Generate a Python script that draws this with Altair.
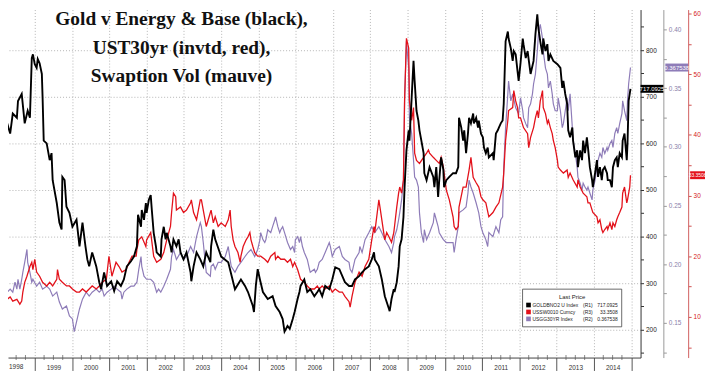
import altair as alt
import pandas as pd

# ---------------- data ----------------
black_year = [
    1998.07, 1998.20, 1998.26, 1998.34, 1998.41, 1998.52, 1998.55, 1998.65, 1998.73, 1998.81, 1998.87, 1998.92, 1998.95,
    1999.00, 1999.05, 1999.08, 1999.13, 1999.19, 1999.21, 1999.24, 1999.32, 1999.40, 1999.45, 1999.48, 1999.59, 1999.66, 1999.72, 1999.74, 1999.80, 1999.85, 1999.93,
    2000.01, 2000.12, 2000.20, 2000.28, 2000.36, 2000.41, 2000.46, 2000.54, 2000.65, 2000.73, 2000.78, 2000.86, 2000.94,
    2001.05, 2001.13, 2001.21, 2001.31, 2001.39, 2001.47, 2001.58, 2001.66, 2001.74, 2001.77, 2001.85, 2001.87, 2001.93, 2001.98,
    2002.00, 2002.06, 2002.11, 2002.14, 2002.19, 2002.25, 2002.27, 2002.38, 2002.40, 2002.46, 2002.51, 2002.54, 2002.64, 2002.67, 2002.72, 2002.80, 2002.86, 2002.91, 2002.99,
    2003.07, 2003.18, 2003.20, 2003.26, 2003.34, 2003.44, 2003.52, 2003.60, 2003.71, 2003.73, 2003.79, 2003.84,
    2004.00, 2004.19, 2004.37, 2004.53, 2004.64, 2004.72, 2004.85, 2004.88, 2004.93, 2004.98,
    2005.04, 2005.12, 2005.25, 2005.38, 2005.46, 2005.57, 2005.65, 2005.70, 2005.78, 2005.84, 2005.92, 2005.97,
    2006.05, 2006.10, 2006.13, 2006.23, 2006.31, 2006.39, 2006.50, 2006.58, 2006.63, 2006.71, 2006.79, 2006.90, 2006.98,
    2007.06, 2007.17, 2007.25, 2007.32, 2007.43, 2007.51, 2007.59, 2007.70, 2007.78, 2007.86, 2007.96,
    2008.04, 2008.10, 2008.12, 2008.23, 2008.31, 2008.39, 2008.50, 2008.52, 2008.57, 2008.63, 2008.65, 2008.71, 2008.76, 2008.79, 2008.84, 2008.89, 2008.92, 2008.97,
    2009.03, 2009.05, 2009.11, 2009.16, 2009.19, 2009.24, 2009.29, 2009.32, 2009.37, 2009.43, 2009.45, 2009.51, 2009.59, 2009.69, 2009.72, 2009.77, 2009.82, 2009.85, 2009.90, 2009.96, 2009.98,
    2010.04, 2010.12, 2010.22, 2010.30, 2010.36, 2010.38, 2010.44, 2010.49, 2010.52, 2010.57, 2010.62, 2010.65, 2010.70, 2010.76, 2010.78, 2010.84, 2010.89, 2010.91, 2010.97,
    2011.02, 2011.05, 2011.10, 2011.15, 2011.18, 2011.29, 2011.31, 2011.37, 2011.42, 2011.45, 2011.50, 2011.55, 2011.58, 2011.63, 2011.69, 2011.71, 2011.77, 2011.82, 2011.85, 2011.90, 2011.95, 2011.98,
    2012.03, 2012.09, 2012.11, 2012.17, 2012.22, 2012.30, 2012.38, 2012.43, 2012.48, 2012.51, 2012.56, 2012.62, 2012.64, 2012.70, 2012.75, 2012.78, 2012.83, 2012.91,
    2013.02, 2013.10, 2013.15, 2013.18, 2013.23, 2013.28, 2013.31, 2013.36, 2013.42, 2013.44, 2013.50, 2013.55, 2013.57, 2013.63, 2013.68, 2013.71, 2013.76, 2013.81, 2013.84, 2013.89, 2013.95, 2013.97,
    2014.03, 2014.08, 2014.11, 2014.16, 2014.21, 2014.24, 2014.29, 2014.35, 2014.37, 2014.43, 2014.48, 2014.51, 2014.56, 2014.61, 2014.64, 2014.69, 2014.75, 2014.77, 2014.82, 2014.88, 2014.90, 2014.93, 2014.98,
]
black_value = [
    581, 660, 643, 621, 664, 655, 691, 706, 643, 670, 655, 783, 791,
    770, 762, 781, 772, 749, 698, 606, 600, 564, 579, 521, 472, 430, 415, 528, 521, 464, 451,
    421, 436, 379, 430, 379, 351, 336, 366, 336, 302, 287, 323, 294,
    304, 283, 304, 294, 308, 336, 347, 357, 379, 447, 421, 457, 436, 472,
    451, 479, 489, 457, 408, 379, 366, 357, 394, 421, 394, 408, 379, 366, 394, 379, 394, 366, 351,
    366, 323, 304, 336, 366, 351, 336, 366, 345, 379, 415, 394,
    357, 345, 287, 308, 294, 281, 251, 238, 294, 330,
    308, 281, 266, 272, 251, 238, 223, 196, 208, 202, 223, 238,
    266, 281, 294, 308, 281, 287, 272, 281, 287, 272, 294, 287, 308,
    334, 330, 315, 302, 294, 294, 308, 315, 323, 330, 336,
    351, 366, 351, 336, 308, 272, 245, 240, 266, 287, 281, 302, 336, 379, 394, 442, 506, 585,
    628, 606, 698, 777, 734, 670, 649, 628, 606, 579, 536, 521, 549, 528, 506, 549, 485, 521, 570, 543, 506,
    521, 528, 536, 536, 549, 655, 634, 606, 628, 579, 621, 655, 643, 664, 643, 655, 634, 649, 621,
    613, 591, 579, 591, 570, 579, 564, 621, 628, 634, 643, 649, 685, 819, 840, 825, 804, 777, 798, 791, 755, 734,
    772, 825, 813, 783, 798, 749, 777, 834, 877, 847, 819, 791, 825, 798, 813, 777, 791, 777,
    770, 762, 719, 734, 706, 685, 628, 613, 634, 606, 570, 585, 549, 585, 564, 606, 579, 613, 591, 549, 521, 506,
    536, 564, 528, 549, 521, 543, 549, 536, 521, 521, 506, 549, 564, 570, 549, 579, 570, 606, 621, 564, 600, 691, 717.09,
]

red_year = [
    1998.07, 1998.15, 1998.26, 1998.34, 1998.41, 1998.52, 1998.60, 1998.65, 1998.68, 1998.73, 1998.79, 1998.87, 1998.92, 1998.95,
    1999.00, 1999.05, 1999.13, 1999.21, 1999.32, 1999.40, 1999.48, 1999.59, 1999.61, 1999.66, 1999.74, 1999.85, 1999.93,
    2000.01, 2000.12, 2000.20, 2000.28, 2000.38, 2000.46, 2000.54, 2000.65, 2000.73, 2000.81, 2000.92, 2000.99,
    2001.07, 2001.18, 2001.26, 2001.34, 2001.45, 2001.53, 2001.61, 2001.72, 2001.74, 2001.79, 2001.87, 2001.98,
    2002.00, 2002.11, 2002.19, 2002.27, 2002.38, 2002.46, 2002.54, 2002.64, 2002.67, 2002.72, 2002.78, 2002.80, 2002.91, 2002.99,
    2003.07, 2003.18, 2003.20, 2003.26, 2003.34, 2003.44, 2003.47, 2003.52, 2003.60, 2003.71, 2003.73, 2003.79, 2003.84, 2003.92,
    2004.00, 2004.11, 2004.19, 2004.24, 2004.27, 2004.32, 2004.37, 2004.45, 2004.51, 2004.53, 2004.59, 2004.64, 2004.67, 2004.72, 2004.77, 2004.80, 2004.85, 2004.90, 2004.98,
    2005.06, 2005.17, 2005.25, 2005.33, 2005.44, 2005.46, 2005.52, 2005.60, 2005.70, 2005.78, 2005.86, 2005.92, 2005.97,
    2006.05, 2006.13, 2006.23, 2006.31, 2006.39, 2006.50, 2006.58, 2006.63, 2006.71, 2006.79, 2006.90, 2006.98,
    2007.06, 2007.17, 2007.25, 2007.32, 2007.43, 2007.46, 2007.51, 2007.59, 2007.70, 2007.78, 2007.86, 2007.96,
    2008.04, 2008.10, 2008.12, 2008.23, 2008.26, 2008.31, 2008.36, 2008.39, 2008.44, 2008.50, 2008.57, 2008.63, 2008.65, 2008.71, 2008.76, 2008.79, 2008.84, 2008.89, 2008.92, 2008.97,
    2009.03, 2009.05, 2009.11, 2009.16, 2009.19, 2009.24, 2009.32, 2009.43, 2009.51, 2009.56, 2009.59, 2009.69, 2009.77, 2009.85, 2009.90, 2009.96, 2009.98,
    2010.04, 2010.12, 2010.22, 2010.25, 2010.30, 2010.36, 2010.38, 2010.49, 2010.57, 2010.65, 2010.70, 2010.76, 2010.84, 2010.91, 2010.97,
    2011.02, 2011.10, 2011.18, 2011.29, 2011.37, 2011.45, 2011.55, 2011.58, 2011.63, 2011.69, 2011.71, 2011.82, 2011.85, 2011.90, 2011.95, 2011.98,
    2012.03, 2012.11, 2012.22, 2012.25, 2012.30, 2012.38, 2012.43, 2012.48, 2012.51, 2012.56, 2012.62, 2012.64, 2012.70, 2012.75, 2012.78, 2012.83, 2012.88, 2012.91, 2012.96,
    2013.02, 2013.04, 2013.10, 2013.18, 2013.28, 2013.31, 2013.36, 2013.44, 2013.55, 2013.57, 2013.63, 2013.71, 2013.81, 2013.84, 2013.89, 2013.95, 2013.97,
    2014.08, 2014.11, 2014.16, 2014.21, 2014.24, 2014.29, 2014.35, 2014.37, 2014.43, 2014.48, 2014.51, 2014.56, 2014.61, 2014.64, 2014.69, 2014.75, 2014.77, 2014.82, 2014.88, 2014.90, 2014.96, 2014.98,
]
red_value = [
    15.1, 14.1, 12.9, 13.3, 12.6, 12.9, 12.1, 12.6, 14.1, 15.7, 16.7, 18.3, 19.0, 17.8,
    19.5, 17.4, 16.7, 15.7, 15.1, 15.7, 15.1, 16.2, 17.8, 16.2, 15.7, 15.1, 15.1,
    14.6, 14.1, 14.1, 14.6, 14.1, 14.6, 15.1, 14.6, 15.1, 15.7, 16.2, 20.0,
    16.7, 19.0, 18.3, 17.4, 17.8, 19.0, 20.0, 20.0, 21.1, 22.7, 23.2, 21.6,
    22.7, 23.9, 20.0, 19.0, 19.5, 20.6, 22.7, 24.9, 27.2, 30.4, 29.8, 27.6, 28.1, 27.2,
    27.6, 28.8, 29.3, 27.2, 26.0, 29.3, 29.3, 27.6, 24.9, 27.2, 27.6, 25.5, 26.5, 24.9,
    25.5, 24.9, 26.0, 27.6, 24.9, 22.7, 21.6, 20.6, 19.0, 20.0, 21.6, 22.3, 22.7, 23.2, 23.9, 22.7, 21.6, 20.6, 20.0,
    20.0, 19.5, 19.0, 20.0, 20.6, 19.5, 20.0, 19.5, 19.5, 19.0, 19.5, 18.3, 19.0,
    17.8, 16.2, 15.7, 15.1, 14.6, 14.6, 15.1, 14.6, 15.1, 14.6, 15.1, 14.1,
    14.6, 14.1, 14.1, 13.4, 12.5, 11.6, 13.4, 15.7, 17.4, 16.7, 18.3, 19.5,
    22.7, 24.9, 23.9, 29.3, 28.1, 26.0, 23.9, 22.7, 23.9, 23.2, 22.3, 23.9, 24.9, 28.1, 30.4, 31.4, 30.4, 32.6, 45.6, 55.9,
    54.3, 45.6, 42.4, 44.5, 37.0, 35.8, 35.3, 36.3, 37.0, 37.5, 37.0, 36.3, 35.8, 35.3, 36.3, 34.7, 33.7,
    30.9, 29.3, 26.5, 24.9, 24.4, 24.9, 28.1, 31.4, 31.4, 34.2, 36.3, 33.0, 32.1, 31.4, 29.8,
    29.3, 28.8, 26.5, 27.2, 28.1, 28.8, 31.4, 33.7, 39.1, 42.4, 44.0, 44.5, 47.3, 45.6, 44.5, 42.8,
    42.8, 41.2, 40.2, 37.9, 39.6, 41.2, 42.8, 44.0, 42.8, 45.6, 47.3, 44.5, 43.5, 41.9, 42.4, 41.2, 40.2, 39.1, 37.9,
    35.8, 34.7, 34.2, 33.7, 34.2, 33.0, 33.7, 32.6, 31.4, 32.6, 31.4, 30.4, 29.8, 28.8, 28.8, 27.6, 27.2,
    26.5, 25.5, 26.0, 24.4, 23.9, 24.4, 24.9, 24.4, 25.5, 24.4, 25.5, 24.9, 26.0, 26.5, 27.2, 28.1, 30.4, 31.4, 28.8, 29.3, 31.4, 33.35,
]

mauve_year = [
    1998.07, 1998.15, 1998.20, 1998.26, 1998.34, 1998.41, 1998.47, 1998.52, 1998.55, 1998.60, 1998.65, 1998.68, 1998.73, 1998.79, 1998.81, 1998.87, 1998.92, 1998.95,
    1999.05, 1999.13, 1999.21, 1999.32, 1999.40, 1999.48, 1999.59, 1999.66, 1999.74, 1999.85, 1999.93,
    2000.01, 2000.06, 2000.12, 2000.20, 2000.28, 2000.38, 2000.46, 2000.54, 2000.65, 2000.73, 2000.81, 2000.86, 2000.94,
    2001.05, 2001.13, 2001.21, 2001.31, 2001.34, 2001.39, 2001.47, 2001.58, 2001.66, 2001.74, 2001.79, 2001.85, 2001.87, 2001.93,
    2002.00, 2002.11, 2002.19, 2002.27, 2002.32, 2002.38, 2002.46, 2002.54, 2002.64, 2002.67, 2002.72, 2002.80, 2002.91, 2002.99,
    2003.07, 2003.18, 2003.26, 2003.34, 2003.44, 2003.47, 2003.52, 2003.60, 2003.71, 2003.73, 2003.79, 2003.84, 2003.92,
    2004.00, 2004.11, 2004.19, 2004.24, 2004.27, 2004.37, 2004.45, 2004.53, 2004.64, 2004.72, 2004.80, 2004.90, 2004.98,
    2005.04, 2005.06, 2005.12, 2005.17, 2005.20, 2005.25, 2005.33, 2005.38, 2005.44, 2005.46, 2005.52, 2005.57, 2005.60, 2005.65, 2005.70, 2005.78, 2005.86, 2005.92, 2005.97, 2005.99,
    2006.05, 2006.10, 2006.13, 2006.18, 2006.23, 2006.31, 2006.37, 2006.39, 2006.50, 2006.53, 2006.58, 2006.63, 2006.71, 2006.79, 2006.90, 2006.93, 2006.98,
    2007.06, 2007.17, 2007.25, 2007.32, 2007.43, 2007.46, 2007.51, 2007.59, 2007.70, 2007.72, 2007.78, 2007.86, 2007.96,
    2008.04, 2008.12, 2008.23, 2008.31, 2008.39, 2008.50, 2008.57, 2008.63, 2008.65, 2008.71, 2008.76, 2008.79, 2008.84, 2008.89, 2008.92, 2008.97,
    2009.03, 2009.05, 2009.11, 2009.16, 2009.19, 2009.24, 2009.29, 2009.32, 2009.37, 2009.43, 2009.45, 2009.51, 2009.59, 2009.69, 2009.72, 2009.77, 2009.82, 2009.85, 2009.96,
    2010.04, 2010.12, 2010.22, 2010.25, 2010.30, 2010.36, 2010.38, 2010.49, 2010.57, 2010.62, 2010.65, 2010.70, 2010.76, 2010.84, 2010.91, 2010.97,
    2011.02, 2011.10, 2011.15, 2011.18, 2011.29, 2011.37, 2011.45, 2011.50, 2011.55, 2011.58, 2011.63, 2011.69, 2011.71, 2011.77, 2011.82, 2011.90, 2011.98,
    2012.03, 2012.09, 2012.11, 2012.17, 2012.22, 2012.25, 2012.30, 2012.35, 2012.38, 2012.43, 2012.48, 2012.51, 2012.56, 2012.62, 2012.64, 2012.70, 2012.75, 2012.78, 2012.83, 2012.88, 2012.91, 2012.96,
    2013.02, 2013.04, 2013.10, 2013.15, 2013.18, 2013.23, 2013.28, 2013.31, 2013.36, 2013.42, 2013.44, 2013.50, 2013.55, 2013.57, 2013.63, 2013.68, 2013.71, 2013.76, 2013.81, 2013.84, 2013.89, 2013.95, 2013.97,
    2014.03, 2014.08, 2014.11, 2014.16, 2014.21, 2014.24, 2014.29, 2014.35, 2014.37, 2014.43, 2014.48, 2014.51, 2014.56, 2014.61, 2014.64, 2014.69, 2014.75, 2014.77, 2014.82, 2014.88, 2014.90, 2014.93, 2014.98,
]
mauve_value = [
    0.1812, 0.1761, 0.1812, 0.1761, 0.1787, 0.1761, 0.1846, 0.1787, 0.1871, 0.1787, 0.1871, 0.1930, 0.2015, 0.2125, 0.2015, 0.1930, 0.1846, 0.1871,
    0.1812, 0.1846, 0.1787, 0.1812, 0.1787, 0.1728, 0.1761, 0.1677, 0.1618, 0.1643, 0.1559,
    0.1533, 0.1424, 0.1508, 0.1618, 0.1702, 0.1761, 0.1728, 0.1761, 0.1787, 0.1761, 0.1787, 0.1728, 0.1761,
    0.1787, 0.1812, 0.1787, 0.1761, 0.1702, 0.1761, 0.1787, 0.1812, 0.1812, 0.1846, 0.1956, 0.2065, 0.1981, 0.1897,
    0.1871, 0.1871, 0.1846, 0.1761, 0.1787, 0.1761, 0.1812, 0.1871, 0.1956, 0.2065, 0.2125, 0.2040, 0.2099, 0.2040,
    0.2065, 0.2150, 0.2099, 0.2234, 0.2353, 0.2319, 0.2184, 0.1930, 0.1897, 0.1981, 0.2000, 0.1956, 0.2015,
    0.2015, 0.2065, 0.2150, 0.2040, 0.1981, 0.1930, 0.1981, 0.2015, 0.2065, 0.2099, 0.2125, 0.2065, 0.2125,
    0.2209, 0.2268, 0.2209, 0.2184, 0.2209, 0.2293, 0.2268, 0.2319, 0.2378, 0.2403, 0.2319, 0.2268, 0.2293, 0.2319, 0.2268, 0.2184, 0.2125, 0.2150, 0.2099, 0.2209,
    0.2234, 0.2184, 0.2234, 0.2150, 0.2099, 0.2040, 0.1956, 0.1930, 0.1956, 0.1930, 0.1956, 0.2015, 0.2040, 0.2099, 0.2184, 0.2150, 0.2065,
    0.2125, 0.2150, 0.2065, 0.2040, 0.2015, 0.1956, 0.1930, 0.2040, 0.2099, 0.2150, 0.2099, 0.2209, 0.2268,
    0.2319, 0.2268, 0.2319, 0.2268, 0.2209, 0.2150, 0.2099, 0.2184, 0.2234, 0.2293, 0.2378, 0.2437, 0.2547, 0.2716, 0.3391, 0.3898,
    0.3670, 0.3248, 0.3113, 0.2885, 0.2741, 0.2716, 0.2657, 0.2437, 0.2268, 0.2184, 0.2293, 0.2209, 0.2268, 0.2353, 0.2437, 0.2378, 0.2319, 0.2268, 0.2209,
    0.2184, 0.2184, 0.2184, 0.2099, 0.2209, 0.2319, 0.2437, 0.2462, 0.2488, 0.2606, 0.2716, 0.2657, 0.2606, 0.2521, 0.2437, 0.2319,
    0.2268, 0.2209, 0.2150, 0.2268, 0.2234, 0.2319, 0.2268, 0.2378, 0.2403, 0.2825, 0.3163, 0.3451, 0.3560, 0.3391, 0.3451, 0.3332, 0.3282,
    0.3417, 0.3307, 0.3248, 0.3197, 0.3163, 0.3332, 0.3366, 0.3451, 0.3535, 0.3619, 0.3814, 0.3957, 0.4042, 0.3923, 0.3814, 0.3670, 0.3619, 0.3501, 0.3560, 0.3451, 0.3366, 0.3307,
    0.3307, 0.3417, 0.3307, 0.3163, 0.3197, 0.3307, 0.3417, 0.3307, 0.3451, 0.3163, 0.3054, 0.2944, 0.2825, 0.2741, 0.2690, 0.2631, 0.2690, 0.2657, 0.2631, 0.2657, 0.2606, 0.2547, 0.2631,
    0.2716, 0.2825, 0.2885, 0.2944, 0.2910, 0.2994, 0.2944, 0.2994, 0.2969, 0.3028, 0.3054, 0.2994, 0.3113, 0.3163, 0.3113, 0.3197, 0.3282, 0.3391, 0.3307, 0.3222, 0.3391, 0.3535, 0.3675,
]

title_lines = ["Gold v Energy & Base (black),", "UST30yr (invtd, red),", "Swaption Vol (mauve)"]
legend_title = "Last Price"
legend_names = ["GOLDBNO2 U Index", "USSW0010 Curncy", "USGG30YR Index"]
legend_axes = ["(R1)", "(R3)", "(R2)"]
legend_values = ["717.0925", "33.3508", "0.367538"]
year_ticks = list(range(1999, 2016))
first_year_label = ["1998"]          # year partly visible at the left edge
r1_ticks = list(range(150, 900, 50))
r2_ticks = [round(0.125 + 0.025 * i, 3) for i in range(12)]
r3_ticks = list(range(5, 61, 5))

BLACK, RED, MAUVE = "#000000", "#e3121b", "#8e7cb8"

# ---------------- layout ----------------
W, H = 638, 351
x_domain = [1998.282, 2015.25]
r1_domain = [140.3, 887.2]
r2_domain = [0.1204, 0.4169]
r3_domain = [3.3, 60.65]
FONT = "Liberation Sans"
TICK, LPAD, LSIZE = 13, -6, 6.5

xs = alt.Scale(domain=x_domain, nice=False, zero=False)
ys1 = alt.Scale(domain=r1_domain, nice=False, zero=False)
ys2 = alt.Scale(domain=r2_domain, nice=False, zero=False)
ys3 = alt.Scale(domain=r3_domain, nice=False, zero=False)

# identical x axis definition in every layer that uses the shared x scale
x_axis = alt.Axis(
    values=year_ticks, format="d", title=None,
    labelExpr="datum.value >= 2015 ? '' : datum.label",
    labelOffset=18.8, labelPadding=LPAD, labelFontSize=LSIZE, labelFont=FONT,
    labelColor="#333333", labelFlush=False, labelOverlap=False,
    tickSize=TICK, tickColor="#555555", domainColor="#444444",
    grid=True, gridDash=[1, 2], gridColor="#b5b5b5",
)
r1_axis = alt.Axis(
    orient="right", values=r1_ticks, title=None,
    labelExpr="datum.value % 100 == 0 ? datum.label : ''",
    labelFontSize=6.5, labelFont=FONT, labelColor="#222222", labelPadding=2,
    tickSize=3, tickColor="#333333", domainColor="#333333",
    grid=True, gridDash=[1, 2], gridColor="#b5b5b5",
    gridOpacity={"condition": {"test": "datum.value % 100 == 0", "value": 1}, "value": 0},
)
r2_axis = alt.Axis(
    orient="right", offset=23, values=r2_ticks, title=None, grid=False,
    labelExpr="abs(datum.value*20 - round(datum.value*20)) < 0.01 ? format(datum.value, '.2f') : ''",
    labelFontSize=6.5, labelFont=FONT, labelColor="#8a80aa", labelPadding=2,
    tickSize=3, tickColor="#999999", domainColor="#999999",
)
r3_axis = alt.Axis(
    orient="right", offset=48, values=r3_ticks, title=None, grid=False,
    labelExpr="datum.value % 10 == 0 ? datum.label : ''",
    labelFontSize=6.5, labelFont=FONT, labelColor="#d42020", labelPadding=2,
    tickSize=3, tickColor="#d05050", domainColor="#d06060",
)


def series_line(years, values, color, width, yscale, yaxis):
    df = pd.DataFrame({"year": years, "value": values})
    return alt.Chart(df).mark_line(color=color, strokeWidth=width, clip=True).encode(
        x=alt.X("year:Q", scale=xs, axis=x_axis),
        y=alt.Y("value:Q", scale=yscale, axis=yaxis),
    )


def series_tag(values, color, yscale, half, tag_x, tag_label, fsize=6):
    last = pd.DataFrame({"value": [values[-1]], "label": [tag_label]})
    rect = alt.Chart(last).transform_calculate(
        lo=f"datum.value - {half}", hi=f"datum.value + {half}"
    ).mark_rect(color=color).encode(
        x=alt.value(tag_x[0]), x2=alt.value(tag_x[1]),
        y=alt.Y("lo:Q", scale=yscale, axis=None), y2="hi:Q",
    )
    txt = alt.Chart(last).mark_text(color="white", fontSize=fsize, font=FONT).encode(
        x=alt.value((tag_x[0] + min(tag_x[1], 703)) / 2),
        y=alt.Y("value:Q", scale=yscale, axis=None),
        text="label:N",
    )
    return [rect, txt]


mauve_line = series_line(mauve_year, mauve_value, MAUVE, 1.2, ys2, r2_axis)
red_line = series_line(red_year, red_value, RED, 1.3, ys3, r3_axis)
black_line = series_line(black_year, black_value, BLACK, 1.9, ys1, r1_axis)

tags = (series_tag(black_value, BLACK, ys1, 8.5, (638, 661), legend_values[0])
        + series_tag(mauve_value, MAUVE, ys2, 0.0034, (663, 686), legend_values[2])
        + series_tag(red_value, RED, ys3, 0.65, (688, 707), legend_values[1], fsize=5))

# minor (quarterly) ticks on the time axis
quarters = [y + q for y in range(1998, 2016) for q in (0.25, 0.5, 0.75) if x_domain[0] < y + q < x_domain[1]]
minor = alt.Chart(pd.DataFrame({"year": quarters})).mark_tick(color="#555555", thickness=1, size=5).encode(
    x=alt.X("year:Q", scale=xs, axis=x_axis), y=alt.value(H)
)

# label of the partly visible first year (its start lies left of the plot)
first_lab = alt.Chart(pd.DataFrame({"year": [int(first_year_label[0]) + 0.5], "t": first_year_label})).mark_text(
    fontSize=LSIZE, font=FONT, color="#333333", baseline="top", align="center"
).encode(x=alt.X("year:Q", scale=xs, axis=x_axis), y=alt.value(H + TICK + LPAD), text="t:N")

one = pd.DataFrame({"a": [0]})
title = alt.Chart(one).mark_text(
    text=title_lines, font="Liberation Serif", fontWeight="bold", fontSize=19.5,
    align="center", baseline="alphabetic", lineHeight=28.5, color="#111111",
).encode(x=alt.value(175), y=alt.value(16))

# legend box (Bloomberg "Last Price" panel)
leg = [
    alt.Chart(one).mark_rect(fill="white", stroke="#444444", strokeWidth=0.8).encode(
        x=alt.value(519), x2=alt.value(619), y=alt.value(282), y2=alt.value(320)),
    alt.Chart(one).mark_text(text=legend_title, fontSize=6, font=FONT, color="#222222").encode(
        x=alt.value(569), y=alt.value(290)),
]
for i, (nm, ax, val, col) in enumerate(zip(legend_names, legend_axes, legend_values, [BLACK, RED, MAUVE])):
    yy = 298 + 7 * i
    leg.append(alt.Chart(one).mark_square(size=22, color=col, opacity=1).encode(x=alt.value(525), y=alt.value(yy)))
    leg.append(alt.Chart(one).mark_text(text=nm, fontSize=5, font=FONT, align="left", color="#222222").encode(
        x=alt.value(529), y=alt.value(yy)))
    leg.append(alt.Chart(one).mark_text(text=ax, fontSize=5, font=FONT, align="left", color="#222222").encode(
        x=alt.value(580), y=alt.value(yy)))
    leg.append(alt.Chart(one).mark_text(text=val, fontSize=5, font=FONT, align="right", color="#222222").encode(
        x=alt.value(615), y=alt.value(yy)))

chart = alt.layer(
    mauve_line, red_line, black_line, *tags, minor, first_lab, title, *leg
).resolve_scale(y="independent").properties(
    width=W, height=H,
    autosize=alt.AutoSizeParams(type="none"),
    padding={"left": 0, "top": 0, "right": 65, "bottom": 14},
    background="white",
).configure_view(strokeWidth=0)

chart.save("out.html", embed_options={"renderer": "svg", "actions": False})
